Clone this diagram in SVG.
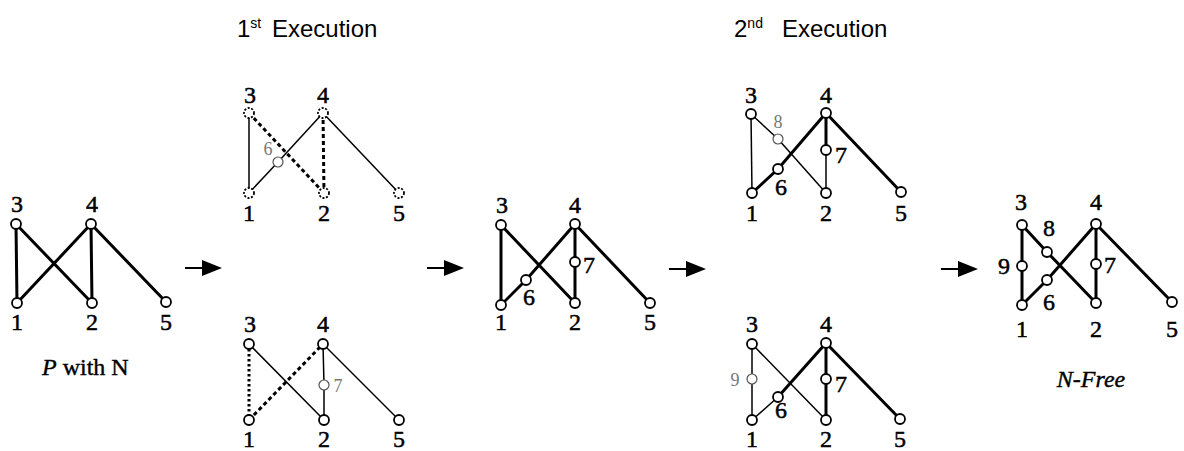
<svg xmlns="http://www.w3.org/2000/svg" width="1184" height="451" viewBox="0 0 1184 451">
<style>
.thick{stroke:#000;stroke-width:3;fill:none;stroke-linecap:round}
.thin{stroke:#000;stroke-width:1.5;fill:none}
.dash{stroke:#000;stroke-width:3;fill:none;stroke-dasharray:4 3}
.dot{stroke:#000;stroke-width:3;fill:none;stroke-dasharray:2.5 2.5}
.n circle{fill:#fff;stroke:#000;stroke-width:1.8}
circle.dn{fill:#fff;stroke:#000;stroke-width:1.8;stroke-dasharray:2 1.6}
circle.gn{fill:#fff;stroke:#555;stroke-width:1.2}
.lb{font-family:"Liberation Serif",serif;font-size:24px;fill:#000;stroke:#000;stroke-width:0.5;text-anchor:middle}
.gl{font-family:"Liberation Serif",serif;font-size:18px;fill:#777;text-anchor:middle}
.tt{font-family:"Liberation Sans",Arial,sans-serif;font-size:24px;fill:#000}
.cap{font-family:"Liberation Serif",serif;font-size:24px;fill:#000;stroke:#000;stroke-width:0.4}
.arr{stroke:#000;stroke-width:2}
</style>
<defs>
<marker id="ah" markerWidth="20" markerHeight="16" refX="0" refY="8" orient="auto" markerUnits="userSpaceOnUse">
<path d="M0,0 L20,8 L0,16 Z" fill="#000"/>
</marker>
</defs>

<g id="titles">
<text class="tt" x="237" y="37">1<tspan font-size="14" dy="-9">st</tspan><tspan x="272" dy="9">Execution</tspan></text>
<text class="tt" x="734" y="37">2<tspan font-size="14" dy="-9">nd</tspan><tspan x="782" dy="9">Execution</tspan></text>
</g>

<g id="connectors">
<line class="arr" x1="185" y1="268" x2="202" y2="268" marker-end="url(#ah)"/>
<line class="arr" x1="427" y1="268" x2="444" y2="268" marker-end="url(#ah)"/>
<line class="arr" x1="669" y1="269" x2="686" y2="269" marker-end="url(#ah)"/>
<line class="arr" x1="941" y1="269" x2="958" y2="269" marker-end="url(#ah)"/>

<line class="thick" x1="16" y1="224" x2="17" y2="303"/>
<line class="thick" x1="16" y1="224" x2="92" y2="303"/>
<line class="thick" x1="17" y1="303" x2="91" y2="224"/>
<line class="thick" x1="91" y1="224" x2="92" y2="303"/>
<line class="thick" x1="91" y1="224" x2="166" y2="302"/>

<line class="thin" x1="249" y1="113" x2="249" y2="193"/>
<line class="dash" x1="249" y1="113" x2="324" y2="193"/>
<line class="thin" x1="249" y1="193" x2="278" y2="162"/>
<line class="thin" x1="278" y1="162" x2="323" y2="113"/>
<line class="dash" x1="323" y1="113" x2="324" y2="193"/>
<line class="thin" x1="323" y1="113" x2="399" y2="193"/>

<line class="dot" x1="249" y1="344" x2="249" y2="420"/>
<line class="dash" x1="249" y1="420" x2="323" y2="344"/>
<line class="thin" x1="249" y1="344" x2="324" y2="420"/>
<line class="thin" x1="323" y1="344" x2="324" y2="385"/>
<line class="thin" x1="324" y1="385" x2="324" y2="420"/>
<line class="thin" x1="323" y1="344" x2="399" y2="420"/>

<line class="thick" x1="501" y1="225" x2="501" y2="305"/>
<line class="thick" x1="501" y1="225" x2="575" y2="303"/>
<line class="thick" x1="501" y1="305" x2="526" y2="280"/>
<line class="thick" x1="526" y1="280" x2="575" y2="224"/>
<line class="thick" x1="575" y1="224" x2="575" y2="262"/>
<line class="thick" x1="575" y1="262" x2="575" y2="303"/>
<line class="thick" x1="575" y1="224" x2="650" y2="303"/>

<line class="thin" x1="751" y1="114" x2="752" y2="193"/>
<line class="thin" x1="751" y1="114" x2="778" y2="139"/>
<line class="thin" x1="778" y1="139" x2="826" y2="193"/>
<line class="thick" x1="752" y1="193" x2="778" y2="169"/>
<line class="thick" x1="778" y1="169" x2="826" y2="113"/>
<line class="thick" x1="826" y1="113" x2="826" y2="150"/>
<line class="thin" x1="826" y1="150" x2="826" y2="193"/>
<line class="thick" x1="826" y1="113" x2="901" y2="192"/>

<line class="thin" x1="752" y1="344" x2="752" y2="379"/>
<line class="thin" x1="752" y1="379" x2="752" y2="420"/>
<line class="thin" x1="752" y1="344" x2="826" y2="420"/>
<line class="thin" x1="752" y1="420" x2="778" y2="397"/>
<line class="thick" x1="778" y1="397" x2="826" y2="343"/>
<line class="thick" x1="826" y1="343" x2="826" y2="379"/>
<line class="thick" x1="826" y1="379" x2="826" y2="420"/>
<line class="thick" x1="826" y1="343" x2="900" y2="419"/>

<line class="thick" x1="1022" y1="225" x2="1022" y2="266"/>
<line class="thick" x1="1022" y1="266" x2="1022" y2="305"/>
<line class="thick" x1="1022" y1="225" x2="1047" y2="252"/>
<line class="thick" x1="1047" y1="252" x2="1096" y2="303"/>
<line class="thick" x1="1022" y1="305" x2="1047" y2="280"/>
<line class="thick" x1="1047" y1="280" x2="1096" y2="224"/>
<line class="thick" x1="1096" y1="224" x2="1096" y2="264"/>
<line class="thick" x1="1096" y1="264" x2="1096" y2="303"/>
<line class="thick" x1="1096" y1="224" x2="1172" y2="302"/>
</g>

<g id="g1" class="n">
<circle cx="16" cy="224" r="5"/><circle cx="91" cy="224" r="5"/>
<circle cx="17" cy="303" r="5"/><circle cx="92" cy="303" r="5"/><circle cx="166" cy="302" r="5"/>
<text class="lb" x="17" y="212">3</text><text class="lb" x="92" y="212">4</text>
<text class="lb" x="17" y="330">1</text><text class="lb" x="92" y="330">2</text><text class="lb" x="166" y="330">5</text>
<text class="cap" x="42" y="375"><tspan font-style="italic">P</tspan> with N</text>
</g>

<g id="g2top">
<circle class="dn" cx="249" cy="113" r="5"/><circle class="dn" cx="323" cy="113" r="5"/>
<circle class="dn" cx="249" cy="193" r="5"/><circle class="dn" cx="324" cy="193" r="5"/><circle class="dn" cx="399" cy="193" r="5"/>
<circle class="gn" cx="278" cy="162" r="5"/>
<text class="lb" x="250" y="103">3</text><text class="lb" x="323" y="103">4</text>
<text class="gl" x="268" y="155">6</text>
<text class="lb" x="249" y="221">1</text><text class="lb" x="324" y="221">2</text><text class="lb" x="399" y="221">5</text>
</g>

<g id="g2bottom" class="n">
<circle cx="249" cy="344" r="5"/><circle cx="323" cy="344" r="5"/>
<circle cx="249" cy="420" r="5"/><circle cx="324" cy="420" r="5"/><circle cx="399" cy="420" r="5"/>
<circle class="gn" cx="324" cy="385" r="5"/>
<text class="lb" x="250" y="332">3</text><text class="lb" x="323" y="332">4</text>
<text class="gl" x="338" y="392">7</text>
<text class="lb" x="249" y="447">1</text><text class="lb" x="324" y="447">2</text><text class="lb" x="399" y="447">5</text>
</g>

<g id="g3" class="n">
<circle cx="501" cy="225" r="5"/><circle cx="575" cy="224" r="5"/>
<circle cx="501" cy="305" r="5"/><circle cx="575" cy="303" r="5"/><circle cx="650" cy="303" r="5"/>
<circle cx="526" cy="280" r="5"/><circle cx="575" cy="262" r="5"/>
<text class="lb" x="502" y="213">3</text><text class="lb" x="575" y="213">4</text>
<text class="lb" x="529" y="305">6</text><text class="lb" x="589" y="273">7</text>
<text class="lb" x="501" y="330">1</text><text class="lb" x="575" y="330">2</text><text class="lb" x="650" y="330">5</text>
</g>

<g id="g4top" class="n">
<circle cx="751" cy="114" r="5"/><circle cx="826" cy="113" r="5"/>
<circle cx="752" cy="193" r="5"/><circle cx="826" cy="193" r="5"/><circle cx="901" cy="192" r="5"/>
<circle class="gn" cx="778" cy="139" r="5"/>
<circle cx="778" cy="169" r="5"/><circle cx="826" cy="150" r="5"/>
<text class="lb" x="751" y="103">3</text><text class="lb" x="826" y="103">4</text>
<text class="gl" x="778" y="128">8</text>
<text class="lb" x="781" y="195">6</text><text class="lb" x="841" y="163">7</text>
<text class="lb" x="752" y="221">1</text><text class="lb" x="826" y="221">2</text><text class="lb" x="901" y="221">5</text>
</g>

<g id="g4bottom" class="n">
<circle cx="752" cy="344" r="5"/><circle cx="826" cy="343" r="5"/>
<circle class="gn" cx="752" cy="379" r="5"/>
<circle cx="752" cy="420" r="5"/><circle cx="826" cy="420" r="5"/><circle cx="900" cy="419" r="5"/>
<circle cx="778" cy="397" r="5"/><circle cx="826" cy="379" r="5"/>
<text class="lb" x="752" y="332">3</text><text class="lb" x="826" y="332">4</text>
<text class="gl" x="735" y="386">9</text>
<text class="lb" x="781" y="418">6</text><text class="lb" x="841" y="392">7</text>
<text class="lb" x="752" y="447">1</text><text class="lb" x="826" y="447">2</text><text class="lb" x="900" y="447">5</text>
</g>

<g id="g5" class="n">
<circle cx="1022" cy="225" r="5"/><circle cx="1096" cy="224" r="5"/>
<circle cx="1022" cy="266" r="5"/><circle cx="1047" cy="252" r="5"/>
<circle cx="1022" cy="305" r="5"/><circle cx="1047" cy="280" r="5"/>
<circle cx="1096" cy="264" r="5"/>
<circle cx="1096" cy="303" r="5"/><circle cx="1172" cy="302" r="5"/>
<text class="lb" x="1021" y="210">3</text><text class="lb" x="1096" y="210">4</text>
<text class="lb" x="1049" y="236">8</text><text class="lb" x="1004" y="274">9</text>
<text class="lb" x="1049" y="310">6</text><text class="lb" x="1110" y="273">7</text>
<text class="lb" x="1022" y="337">1</text><text class="lb" x="1096" y="337">2</text><text class="lb" x="1172" y="337">5</text>
<text class="cap" x="1091" y="387" text-anchor="middle" font-style="italic">N-Free</text>
</g>
</svg>
